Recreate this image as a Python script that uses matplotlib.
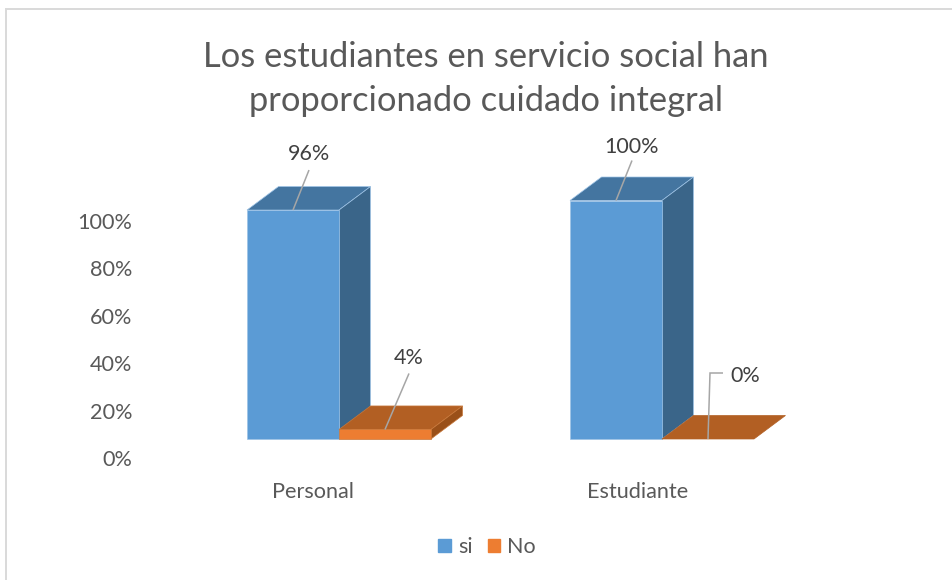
import matplotlib
matplotlib.use('Agg')
import matplotlib.pyplot as plt
from matplotlib.patches import Polygon, Rectangle

plt.rcParams['font.family'] = ['Lato', 'DejaVu Sans']

categories = ['Personal', 'Estudiante']
si = [0.96, 1.00]
no = [0.04, 0.00]
si_labels = ['96%', '100%']
no_labels = ['4%', '0%']
y_ticks = [0, 0.2, 0.4, 0.6, 0.8, 1.0]
y_tick_labels = ['0%', '20%', '40%', '60%', '80%', '100%']
title = 'Los estudiantes en servicio social han\nproporcionado cuidado integral'

W, H = 952, 580
# pixels per data unit on the bar axes
PX_X, PX_Y = 323.0, 238.5
X0, Y0 = 339.0, 439.0
BAR_W = 92.0 / PX_X
DEPTH_X, DEPTH_Y = 31.5 / PX_X, 23.5 / PX_Y

fig = plt.figure(figsize=(W / 100, H / 100), dpi=100, facecolor='white')

# Word style frame, open on the right and at the bottom
fig.add_artist(Rectangle((5.5 / W, -0.1), 1.1, (H - 9) / H + 0.1, transform=fig.transFigure,
                         fill=False, edgecolor='#d9d9d9', linewidth=1.4))

# Bars
ax = fig.add_axes([0, 0, 1, 1])
ax.set_xlim(-X0 / PX_X, (W - X0) / PX_X)
ax.set_ylim((Y0 - H) / PX_Y, Y0 / PX_Y)
ax.axis('off')
ax.patch.set_alpha(0)


def bar3d(x, v, front, top, side, edge):
    r = x + BAR_W
    ax.add_patch(Polygon([(x, v), (r, v), (r + DEPTH_X, v + DEPTH_Y), (x + DEPTH_X, v + DEPTH_Y)],
                         facecolor=top, edgecolor=edge, linewidth=0.5))
    if v > 0:
        ax.add_patch(Polygon([(r, 0), (r + DEPTH_X, DEPTH_Y), (r + DEPTH_X, v + DEPTH_Y), (r, v)],
                             facecolor=side, edgecolor=edge, linewidth=0.5))
        ax.add_patch(Rectangle((x, 0), BAR_W, v, facecolor=front, edgecolor=edge, linewidth=0.5))


for i in range(len(categories)):
    bar3d(i - BAR_W, si[i], '#5b9bd5', '#4475a0', '#3a6589', '#9dc3e6')
    bar3d(i, no[i], '#ed7d31', '#b25f23', '#9a5019', '#c9783a' if no[i] > 0 else '#b25f23')


def leader(x, v, offsets, text, tx, ty):
    xs = [x + dx / PX_X for dx, dy in offsets]
    ys = [v + dy / PX_Y for dx, dy in offsets]
    ax.plot(xs, ys, color='#a6a6a6', linewidth=1.1, solid_capstyle='butt', solid_joinstyle='miter')
    ax.text(x + tx / PX_X, v + ty / PX_Y, text, ha='center', va='center', fontsize=15.5, color='#404040')


leader(0 - BAR_W / 2, si[0], [(0, 0), (16, 40)], si_labels[0], 16, 56)
leader(1 - BAR_W / 2, si[1], [(0, 0), (16, 40)], si_labels[1], 16, 54)
leader(0 + BAR_W / 2, no[0], [(0, 0), (24, 56)], no_labels[0], 24, 71)
leader(1 + BAR_W / 2, no[1], [(0, 0), (2, 66), (15, 66)], no_labels[1], 37, 63)

# Axis labels sit lower and further left than the bars, as in a 3-D chart
tick_ax = fig.add_axes([136 / W, (H - 458) / H, (W - 136) / W, 237 / H])
tick_ax.patch.set_alpha(0)
tick_ax.set_ylim(0, 1)
tick_ax.set_xlim((136 - 313) / 325, (W - 313) / 325)
tick_ax.set_yticks(y_ticks, y_tick_labels)
tick_ax.set_xticks(range(len(categories)), categories)
tick_ax.tick_params(length=0, labelsize=15.6, labelcolor='#595959')
tick_ax.tick_params(axis='y', pad=2.5)
tick_ax.tick_params(axis='x', pad=17)
for s in tick_ax.spines.values():
    s.set_visible(False)

fig.text(486 / W, (H - 79) / H, title, ha='center', va='center', fontsize=24.8, color='#595959',
         linespacing=1.45)

handles = [Rectangle((0, 0), 1, 1, color='#5b9bd5'), Rectangle((0, 0), 1, 1, color='#ed7d31')]
fig.legend(handles, ['si', 'No'], ncol=2, loc='center', bbox_to_anchor=(487 / W, (H - 547) / H),
           frameon=False, fontsize=15.5, labelcolor='#595959', handlelength=0.6, handleheight=0.6,
           handletextpad=0.3, columnspacing=0.7)

fig.savefig('out.png', dpi=100)
